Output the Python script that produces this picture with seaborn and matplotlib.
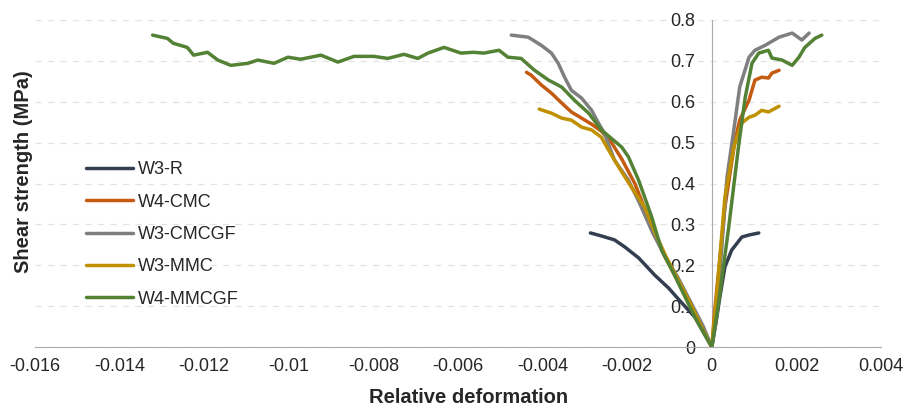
"""Shear strength vs relative deformation for the wall specimens."""
import pandas as pd
import matplotlib
matplotlib.use('Agg')
import matplotlib.pyplot as plt
from matplotlib.ticker import FuncFormatter
import seaborn as sns

# values
SERIES = ['W3-R', 'W4-CMC', 'W3-CMCGF', 'W3-MMC', 'W4-MMCGF']
COLORS = ['#333F50', '#C55A11', '#7F7F7F', '#BF9000', '#548235']

w3_r_x = [-0.00287, -0.00262, -0.0023, -0.00206, -0.00173, -0.00135, -0.00102,
          -0.00071, -0.0004, 0, 0.0001, 0.00019, 0.00031, 0.00047, 0.00071,
          0.00088, 0.00111]
w3_r_y = [0.279, 0.272, 0.262, 0.245, 0.218, 0.176, 0.144,
          0.108, 0.073, 0, 0.06, 0.122, 0.196, 0.237, 0.269,
          0.274, 0.279]

w4_cmc_x = [-0.00438, -0.00427, -0.00403, -0.00379, -0.00355, -0.00332, -0.00308,
            -0.00284, -0.00261, -0.00237, -0.00213, -0.00182, -0.00159, -0.0013,
            -0.0011, -0.0008, -0.0005, -0.0002, 0, 0.00007, 0.00031, 0.00055,
            0.00066, 0.00088, 0.00102, 0.00118, 0.00134, 0.00142, 0.00159]
w4_cmc_y = [0.672, 0.665, 0.641, 0.621, 0.597, 0.575, 0.560,
            0.545, 0.528, 0.500, 0.460, 0.400, 0.340, 0.270,
            0.220, 0.160, 0.100, 0.040, 0, 0.090, 0.342, 0.506,
            0.555, 0.604, 0.653, 0.660, 0.658, 0.670, 0.677]

w3_cmcgf_x = [-0.00474, -0.00434, -0.00403, -0.00379, -0.00363, -0.00348, -0.00332,
              -0.00308, -0.00284, -0.00268, -0.00254, -0.0023, -0.00197, -0.0017,
              -0.0014, -0.0011, -0.0008, -0.0005, -0.0002, 0, 0.00012, 0.00036,
              0.00052, 0.00066, 0.00088, 0.00102, 0.00126, 0.00159, 0.0019,
              0.00213, 0.0023]
w3_cmcgf_y = [0.763, 0.758, 0.738, 0.719, 0.694, 0.660, 0.628,
              0.609, 0.579, 0.548, 0.523, 0.457, 0.408, 0.350,
              0.280, 0.220, 0.170, 0.110, 0.050, 0, 0.083, 0.416,
              0.531, 0.636, 0.709, 0.726, 0.738, 0.758, 0.768,
              0.751, 0.768]

w3_mmc_x = [-0.00408, -0.00379, -0.00355, -0.00332, -0.00308, -0.00284, -0.00261,
            -0.00244, -0.0022, -0.0019, -0.00159, -0.0013, -0.0011, -0.0008,
            -0.0005, -0.0002, 0, 0.00012, 0.00031, 0.00052, 0.00071, 0.00088,
            0.00102, 0.00118, 0.00134, 0.00159]
w3_mmc_y = [0.582, 0.572, 0.560, 0.555, 0.538, 0.531, 0.513,
            0.482, 0.440, 0.391, 0.342, 0.270, 0.225, 0.165,
            0.105, 0.040, 0, 0.132, 0.367, 0.489, 0.548, 0.562,
            0.567, 0.579, 0.575, 0.589]

w4_mmcgf_x = [-0.01322, -0.01287, -0.01273, -0.0124, -0.01225, -0.01192, -0.01168,
              -0.01137, -0.01097, -0.01073, -0.01035, -0.01002, -0.00972, -0.00924,
              -0.00884, -0.00846, -0.00799, -0.00766, -0.00728, -0.00695, -0.00671,
              -0.00633, -0.00593, -0.00563, -0.00539, -0.00503, -0.00482, -0.00451,
              -0.00419, -0.00386, -0.00355, -0.00325, -0.00291, -0.00261, -0.00213,
              -0.00197, -0.00173, -0.00142, -0.00118, -0.0009, -0.00071, -0.0004,
              0, 0.00016, 0.0004, 0.00063, 0.00079, 0.00095, 0.00111, 0.00134,
              0.00142, 0.00166, 0.0019, 0.00206, 0.0022, 0.00244, 0.0026]
w4_mmcgf_y = [0.763, 0.755, 0.743, 0.733, 0.714, 0.721, 0.702,
              0.689, 0.694, 0.702, 0.694, 0.709, 0.704, 0.714,
              0.697, 0.711, 0.711, 0.706, 0.716, 0.706, 0.719,
              0.733, 0.719, 0.721, 0.719, 0.726, 0.709, 0.706,
              0.677, 0.653, 0.636, 0.604, 0.572, 0.531, 0.489,
              0.465, 0.408, 0.318, 0.235, 0.180, 0.139, 0.073,
              0, 0.108, 0.293, 0.489, 0.611, 0.694, 0.719, 0.726,
              0.707, 0.702, 0.689, 0.709, 0.733, 0.755, 0.763]

X_TICKS = [-0.016, -0.014, -0.012, -0.01, -0.008, -0.006, -0.004, -0.002, 0, 0.002, 0.004]
Y_TICKS = [0, 0.1, 0.2, 0.3, 0.4, 0.5, 0.6, 0.7, 0.8]

xs = [w3_r_x, w4_cmc_x, w3_cmcgf_x, w3_mmc_x, w4_mmcgf_x]
ys = [w3_r_y, w4_cmc_y, w3_cmcgf_y, w3_mmc_y, w4_mmcgf_y]
frames = []
for name, x, y in zip(SERIES, xs, ys):
    frames.append(pd.DataFrame({'x': x, 'y': y, 'series': name}))
df = pd.concat(frames, ignore_index=True)

sns.set_style('white')
plt.rcParams['font.family'] = ['Liberation Sans', 'DejaVu Sans']

fig = plt.figure(figsize=(9.14, 4.12), dpi=100)
ax = fig.add_axes([35 / 914, 65 / 412, 846 / 914, 327 / 412])

sns.lineplot(data=df, x='x', y='y', hue='series', hue_order=SERIES,
             palette=COLORS, sort=False, estimator=None, units='series',
             linewidth=2.5, ax=ax, legend=False)

ax.set_xlim(-0.016, 0.004)
ax.set_ylim(0, 0.8)
ax.set_xticks(X_TICKS)
ax.set_yticks(Y_TICKS)
fmt = FuncFormatter(lambda v, _: f'{v:g}')
ax.xaxis.set_major_formatter(fmt)
ax.yaxis.set_major_formatter(fmt)
ax.tick_params(axis='x', length=0, pad=8, labelsize=13)
ax.tick_params(axis='y', length=0, pad=12, labelsize=13)

for s in ['top', 'right']:
    ax.spines[s].set_visible(False)
ax.spines['left'].set_position(('data', 0))
ax.spines['left'].set_color('#ABABAB')
ax.spines['bottom'].set_color('#ABABAB')
ax.spines['left'].set_zorder(1)

ax.set_axisbelow(True)
ax.yaxis.grid(True, linestyle=(0, (5, 5)), color='#E3E3E3', linewidth=0.9)
ax.xaxis.grid(False)

ax.set_xlabel('Relative deformation', fontsize=14.5, fontweight='bold')
ax.set_ylabel('Shear strength (MPa)', fontsize=14.5, fontweight='bold')
ax.xaxis.set_label_coords(0.513, -0.125)
ax.yaxis.set_label_coords(-0.002, 0.537)

handles = [plt.Line2D([], [], color=c, linewidth=2.5) for c in COLORS]
ax.legend(handles, SERIES, loc='center left', frameon=False, fontsize=13,
          bbox_to_anchor=(86 / 914, 1 - 234.5 / 412), bbox_transform=fig.transFigure,
          borderpad=0, borderaxespad=0, handlelength=2.6, handletextpad=0.3,
          labelspacing=0.85)

fig.savefig('out.png', dpi=100)
